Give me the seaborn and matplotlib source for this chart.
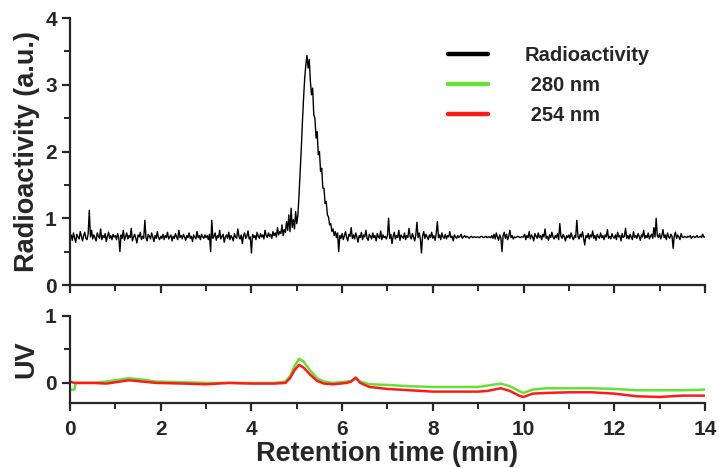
import numpy as np
import pandas as pd
import matplotlib
matplotlib.use("Agg")
import matplotlib.pyplot as plt
import seaborn as sns
from matplotlib.ticker import MultipleLocator

# radioactivity trace, one reading every 0.025 min from 0 to 14 min (one row per half minute)
radio_step = 0.025
radio_values = [
    0.70, 0.75, 0.67, 0.78, 0.71, 0.64, 0.76, 0.72, 0.69, 0.80, 0.73, 0.66, 0.74, 0.79, 0.70, 0.68, 0.77, 1.12, 0.72, 0.82,
    0.69, 0.75, 0.71, 0.66, 0.78, 0.73, 0.70, 0.84, 0.68, 0.74, 0.71, 0.77, 0.65, 0.73, 0.79, 0.70, 0.74, 0.68, 0.76, 0.72,
    0.74, 0.68, 0.77, 0.71, 0.50, 0.75, 0.70, 0.82, 0.67, 0.73, 0.78, 0.69, 0.74, 0.71, 0.85, 0.66, 0.72, 0.76, 0.70, 0.63,
    0.75, 0.72, 0.79, 0.68, 0.73, 0.70, 0.97, 0.71, 0.66, 0.76, 0.73, 0.69, 0.78, 0.72, 0.65, 0.74, 0.70, 0.80, 0.71, 0.68,
    0.73, 0.70, 0.76, 0.68, 0.74, 0.71, 0.79, 0.69, 0.72, 0.75, 0.66, 0.73, 0.70, 0.77, 0.72, 0.68, 0.82, 0.71, 0.74, 0.69,
    0.76, 0.72, 0.67, 0.74, 0.71, 0.78, 0.70, 0.73, 0.65, 0.75, 0.72, 0.69, 0.80, 0.71, 0.74, 0.68, 0.76, 0.72, 0.70, 0.75,
    0.71, 0.74, 0.68, 0.76, 0.50, 0.97, 0.70, 0.73, 0.78, 0.67, 0.74, 0.71, 0.82, 0.69, 0.73, 0.76, 0.64, 0.72, 0.75, 0.70,
    0.79, 0.68, 0.74, 0.71, 0.66, 0.77, 0.72, 0.70, 0.84, 0.73, 0.69, 0.75, 0.62, 0.74, 0.78, 0.70, 0.73, 0.81, 0.69, 0.72,
    0.48, 0.76, 0.71, 0.74, 0.68, 0.79, 0.73, 0.70, 0.77, 0.72, 0.75, 0.69, 0.82, 0.74, 0.71, 0.78, 0.73, 0.76, 0.70, 0.80,
    0.74, 0.78, 0.72, 0.86, 0.75, 0.80, 0.77, 0.90, 0.74, 0.83, 0.79, 0.95, 0.82, 1.05, 0.80, 1.15, 0.86, 0.98, 0.84, 1.10,
    0.92, 1.05, 1.35, 1.70, 2.05, 2.45, 2.80, 3.10, 3.30, 3.44, 3.25, 3.38, 3.05, 2.85, 2.95, 2.55, 2.50, 2.20, 2.30, 1.95,
    2.00, 1.70, 1.75, 1.45, 1.45, 1.22, 1.25, 1.05, 1.02, 0.90, 0.92, 0.80, 0.84, 0.74, 0.80, 0.71, 0.78, 0.50, 0.74, 0.70,
    0.77, 0.68, 0.74, 0.80, 0.71, 0.66, 0.76, 0.73, 0.86, 0.70, 0.75, 0.69, 0.78, 0.72, 0.64, 0.74, 0.71, 0.79, 0.68, 0.75,
    0.72, 0.82, 0.70, 0.67, 0.76, 0.73, 0.69, 0.78, 0.71, 0.74, 0.66, 0.77, 0.72, 0.70, 0.81, 0.68, 0.75, 0.71, 0.73, 0.69,
    0.74, 1.00, 0.70, 0.76, 0.62, 0.73, 0.79, 0.69, 0.74, 0.71, 0.82, 0.67, 0.75, 0.72, 0.70, 0.78, 0.68, 0.74, 0.71, 0.85,
    0.73, 0.69, 0.77, 0.72, 0.66, 0.75, 0.94, 0.71, 0.78, 0.69, 0.48, 0.74, 0.80, 0.70, 0.76, 0.72, 0.68, 0.75, 0.71, 0.79,
    0.70, 0.74, 0.67, 0.77, 0.95, 0.71, 0.75, 0.68, 0.78, 0.72, 0.70, 0.76, 0.69, 0.74, 0.72, 0.80, 0.71, 0.73, 0.66, 0.75,
    0.72, 0.70, 0.74, 0.71, 0.73, 0.76, 0.70, 0.72, 0.74, 0.71, 0.73, 0.72, 0.70, 0.72, 0.73, 0.71, 0.72, 0.72, 0.71, 0.72,
    0.72, 0.71, 0.72, 0.73, 0.72, 0.71, 0.72, 0.73, 0.71, 0.72, 0.72, 0.71, 0.74, 0.70, 0.76, 0.69, 0.78, 0.72, 0.67, 0.75,
    0.71, 0.50, 0.74, 0.79, 0.70, 0.76, 0.68, 0.73, 0.82, 0.71, 0.74, 0.69, 0.72, 0.71, 0.72, 0.73, 0.72, 0.71, 0.72, 0.72,
    0.72, 0.76, 0.68, 0.74, 0.71, 0.80, 0.69, 0.75, 0.72, 0.66, 0.77, 0.73, 0.70, 0.78, 0.71, 0.74, 0.68, 0.76, 0.72, 0.84,
    0.70, 0.73, 0.67, 0.75, 0.71, 0.79, 0.72, 0.69, 0.74, 0.71, 0.77, 0.68, 0.92, 0.73, 0.70, 0.76, 0.72, 0.66, 0.74, 0.71,
    0.75, 0.70, 0.78, 0.72, 0.68, 0.74, 0.71, 0.97, 0.73, 0.69, 0.76, 0.72, 0.80, 0.70, 0.60, 0.74, 0.71, 0.77, 0.69, 0.75,
    0.72, 0.81, 0.70, 0.74, 0.67, 0.76, 0.72, 0.70, 0.78, 0.71, 0.74, 0.68, 0.75, 0.72, 0.83, 0.70, 0.73, 0.69, 0.77, 0.72,
    0.70, 0.75, 0.68, 0.79, 0.72, 0.74, 0.66, 0.77, 0.71, 0.73, 0.85, 0.70, 0.74, 0.69, 0.76, 0.72, 0.68, 0.80, 0.71, 0.74,
    0.70, 0.77, 0.73, 0.67, 0.75, 0.72, 0.82, 0.70, 0.74, 0.71, 0.78, 0.69, 0.73, 0.76, 0.70, 0.86, 0.72, 1.00, 0.74, 0.71,
    0.77, 0.69, 0.74, 0.83, 0.71, 0.75, 0.68, 0.78, 0.72, 0.70, 0.76, 0.73, 0.55, 0.74, 0.79, 0.70, 0.75, 0.72, 0.68, 0.77,
    0.72, 0.71, 0.73, 0.72, 0.71, 0.73, 0.72, 0.74, 0.70, 0.72, 0.73, 0.71, 0.72, 0.74, 0.71, 0.72, 0.73, 0.71, 0.76, 0.72,
    0.72,
]

# UV absorbance traces
uv_time = [0, 0.1, 0.12, 0.5, 0.8, 1.0, 1.3, 1.6, 1.9, 2.5,
           3.0, 3.5, 4.0, 4.5, 4.75, 4.85, 4.95, 5.05, 5.15, 5.3,
           5.45, 5.6, 5.8, 6.1, 6.2, 6.3, 6.4, 6.6, 7.0, 7.5,
           8.0, 8.5, 9.0, 9.2, 9.5, 9.7, 9.9, 10.0, 10.2, 10.5,
           11.0, 11.5, 12.0, 12.5, 13.0, 13.5, 14.0]
uv_280 = [-0.10, -0.10, 0.0, 0.0, 0.02, 0.04, 0.07, 0.05, 0.02, 0.01,
          0.0, 0.0, 0.0, 0.0, 0.02, 0.10, 0.25, 0.36, 0.32, 0.18,
          0.07, 0.02, 0.0, 0.02, 0.03, 0.07, 0.02, -0.02, -0.03, -0.05,
          -0.06, -0.06, -0.06, -0.04, -0.01, -0.05, -0.12, -0.15, -0.10, -0.08,
          -0.08, -0.08, -0.09, -0.11, -0.11, -0.11, -0.10]
uv_254 = [0.02, 0.0, 0.0, 0.0, -0.01, 0.01, 0.04, 0.02, 0.0, -0.01,
          -0.02, 0.0, -0.01, -0.01, 0.0, 0.07, 0.19, 0.27, 0.23, 0.12,
          0.03, -0.01, -0.02, 0.0, 0.02, 0.08, 0.0, -0.06, -0.09, -0.11,
          -0.13, -0.13, -0.13, -0.12, -0.08, -0.12, -0.19, -0.21, -0.16, -0.15,
          -0.14, -0.14, -0.16, -0.20, -0.21, -0.19, -0.19]

legend_labels = ["Radioactivity", " 280 nm", " 254 nm"]
line_colors = ["black", "#66e033", "#ff1a1a"]

sns.set_style("ticks")
plt.rcParams["font.family"] = ["Liberation Sans", "DejaVu Sans"]
plt.rcParams["font.weight"] = "bold"

radio_time = np.arange(len(radio_values)) * radio_step
radio_df = pd.DataFrame({"time": radio_time, "signal": radio_values})
uv_df = pd.DataFrame({"time": uv_time, "uv280": uv_280, "uv254": uv_254})

fig = plt.figure(figsize=(7.19, 4.68), dpi=100)
ax_top = fig.add_axes([0.0974, 0.391, 0.883, 0.5705])
ax_bot = fig.add_axes([0.0974, 0.1389, 0.883, 0.1859])

# top panel: radioactivity
sns.lineplot(data=radio_df, x="time", y="signal", ax=ax_top, color=line_colors[0],
             lw=1.0, estimator=None, sort=False)

# bottom panel: UV traces
sns.lineplot(data=uv_df, x="time", y="uv280", ax=ax_bot, color=line_colors[1],
             lw=1.8, estimator=None, sort=False)
sns.lineplot(data=uv_df, x="time", y="uv254", ax=ax_bot, color=line_colors[2],
             lw=1.8, estimator=None, sort=False)

for ax in (ax_top, ax_bot):
    ax.set_xlim(0, 14)
    sns.despine(ax=ax)
    for side in ("left", "bottom"):
        ax.spines[side].set_linewidth(1.6)
    ax.xaxis.set_major_locator(MultipleLocator(2))
    ax.xaxis.set_minor_locator(MultipleLocator(1))
    ax.tick_params(which="major", length=6, width=1.6, labelsize=15)
    ax.tick_params(which="minor", length=4, width=1.4)
    ax.tick_params(axis="x", pad=6)
    ax.set_xlabel("")

ax_top.set_ylim(0, 4)
ax_top.yaxis.set_major_locator(MultipleLocator(1))
ax_top.yaxis.set_minor_locator(MultipleLocator(0.5))
ax_top.tick_params(axis="x", labelbottom=False)
ax_top.set_ylabel("Radioactivity (a.u.)", fontsize=19.5, fontweight="bold")

ax_bot.set_ylim(-0.3, 1)
ax_bot.set_yticks([0, 1])
ax_bot.set_yticks([0.5], minor=True)
ax_bot.set_ylabel("UV", fontsize=19.5, fontweight="bold")
ax_bot.set_xlabel("Retention time (min)", fontsize=19.5, fontweight="bold", labelpad=2)

fig.align_ylabels([ax_top, ax_bot])

# legend in the top panel
handles = [plt.Line2D([], [], color=c, lw=3.2) for c in line_colors]
ax_top.legend(handles, legend_labels, loc="upper left",
              bbox_to_anchor=(448 / 719, 1 - 46 / 468), bbox_transform=fig.transFigure,
              frameon=False, fontsize=14.5, handlelength=2.0, handletextpad=1.8,
              labelspacing=0.55, borderpad=0, borderaxespad=0)

fig.savefig("out.png", dpi=100)
